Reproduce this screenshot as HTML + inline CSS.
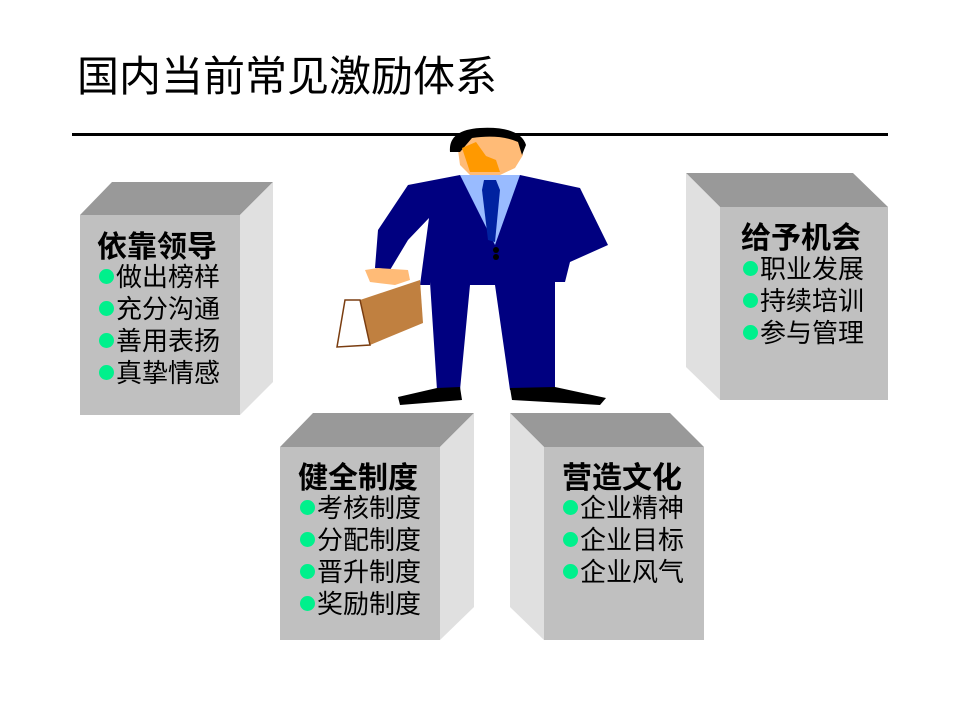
<!DOCTYPE html>
<html><head><meta charset="utf-8"><style>
body{margin:0;background:#fff;width:960px;height:720px;overflow:hidden;position:relative;font-family:"Liberation Sans","Noto Sans CJK SC",sans-serif}
.t{position:absolute;white-space:nowrap;color:#000}
.h{font-weight:bold;font-size:30px}
.i{font-size:26px}
.b{display:inline-block;width:15px;height:15px;border-radius:50%;background:#00f08c;margin-right:2px;vertical-align:2px}
</style></head><body>
<div class="t" style="left:77px;top:43px;font-size:42px;">国内当前常见激励体系</div>
<svg width="960" height="720" style="position:absolute;left:0;top:0">
<rect x="72" y="133" width="816" height="3" fill="#000"/>
<polygon points="80,215 112,182 273,182 240,215" fill="#999"/>
<polygon points="240,215 273,182 273,382 240,415" fill="#e0e0e0"/>
<rect x="80" y="215" width="160" height="200" fill="#c0c0c0"/>
<polygon points="686,173 853,173 888,207 720,207" fill="#999"/>
<polygon points="686,173 720,207 720,400 686,367" fill="#e0e0e0"/>
<rect x="720" y="207" width="168" height="193" fill="#c0c0c0"/>
<polygon points="280,447 313,413 474,413 440,447" fill="#999"/>
<polygon points="440,447 474,413 474,607 440,640" fill="#e0e0e0"/>
<rect x="280" y="447" width="160" height="193" fill="#c0c0c0"/>
<polygon points="510,413 670,413 704,447 544,447" fill="#999"/>
<polygon points="510,413 544,447 544,640 510,607" fill="#e0e0e0"/>
<rect x="544" y="447" width="160" height="193" fill="#c0c0c0"/>
<polygon points="408,185 460,175 520,175 580,188 608,245 570,262 565,282 555,282 555,390 510,390 495,285 470,285 460,390 437,390 430,282 430,285 420,285 429,218 408,240 390,270 375,268 378,230" fill="#000080"/>
<polygon points="460,175 520,175 495,245" fill="#99bbff"/>
<polygon points="484,180 496,180 500,190 495,242 488,240 482,190" fill="#0022a0"/>
<circle cx="496" cy="250" r="3" fill="#000"/><circle cx="496" cy="257" r="3" fill="#000"/>
<polygon points="458,150 462,140 474,132 500,130 520,138 523,155 515,168 500,175 470,175 460,165" fill="#ffbb77"/>
<path d="M450 152 Q448 130 480 128 Q520 126 526 145 L522 155 L518 142 Q500 134 472 138 L460 152 Z" fill="#000"/>
<polygon points="462,148 476,142 486,156 496,160 500,172 470,172" fill="#ff9900"/>
<polygon points="365,270 378,268 408,270 410,280 395,285 370,282" fill="#ffbb77"/>
<polygon points="360,300 420,280 423,323 370,345" fill="#c08040"/>
<polygon points="345,300 360,300 370,345 337,347" fill="#fff" stroke="#7a3d10" stroke-width="1.5"/>
<polygon points="437,388 460,387 462,400 400,405 398,397" fill="#000"/>
<polygon points="510,388 555,387 606,398 600,405 512,400" fill="#000"/>
</svg>
<div class="t h" style="left:97px;top:222px">依靠领导</div>
<div class="t i" style="left:99px;top:261px;line-height:32px"><span class="b"></span>做出榜样<br><span class="b"></span>充分沟通<br><span class="b"></span>善用表扬<br><span class="b"></span>真挚情感</div>
<div class="t h" style="left:741px;top:213px">给予机会</div>
<div class="t i" style="left:743px;top:253px;line-height:32px"><span class="b"></span>职业发展<br><span class="b"></span>持续培训<br><span class="b"></span>参与管理</div>
<div class="t h" style="left:298px;top:453px">健全制度</div>
<div class="t i" style="left:300px;top:492px;line-height:32px"><span class="b"></span>考核制度<br><span class="b"></span>分配制度<br><span class="b"></span>晋升制度<br><span class="b"></span>奖励制度</div>
<div class="t h" style="left:562px;top:453px">营造文化</div>
<div class="t i" style="left:563px;top:492px;line-height:32px"><span class="b"></span>企业精神<br><span class="b"></span>企业目标<br><span class="b"></span>企业风气</div>
</body></html>
